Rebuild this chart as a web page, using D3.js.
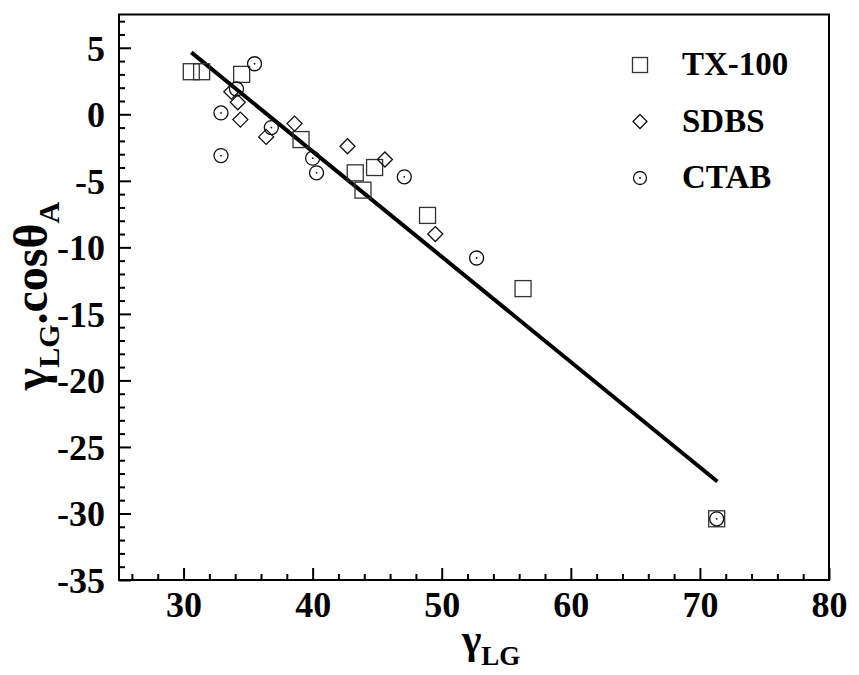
<!DOCTYPE html>
<html>
<head>
<meta charset="utf-8">
<script src="https://cdn.jsdelivr.net/npm/d3@7"></script>
<style>
  body { margin: 0; background: #fff; }
  text { font-family: "Liberation Serif", "Times New Roman", serif; font-weight: bold; }
</style>
</head>
<body>
<svg width="859" height="675"></svg>
<script>
const svg = d3.select('svg');

// TX-100 (squares)
const txX = [30.6, 31.4, 34.5, 39.1, 43.3, 44.8, 43.9, 48.9, 56.3, 71.3];
const txY = [3.2, 3.2, 3.0, -1.9, -4.4, -4.0, -5.7, -7.6, -13.1, -30.4];
// SDBS (diamonds)
const sdX = [33.7, 34.2, 34.4, 36.4, 38.6, 42.7, 45.6, 49.5];
const sdY = [1.7, 0.9, -0.4, -1.7, -0.7, -2.4, -3.4, -9.0];
// CTAB (circles)
const ctX = [35.5, 34.1, 32.9, 32.9, 36.8, 40.0, 40.3, 47.1, 52.7, 71.3];
const ctY = [3.8, 1.9, 0.1, -3.1, -1.0, -3.3, -4.4, -4.7, -10.8, -30.4];
// fitted line end points
const fitX = [30.6, 71.35];
const fitY = [4.65, -27.6];

const xTicks = [30, 40, 50, 60, 70, 80];
const yTicks = [5, 0, -5, -10, -15, -20, -25, -30, -35];
const legendNames = ['TX-100', 'SDBS', 'CTAB'];

const x = d3.scaleLinear().domain([25, 80]).range([119, 829]);
const y = d3.scaleLinear().domain([-35, 7.5]).range([580, 14.5]);

const stroke = '#333';

// frame
svg.append('rect')
    .attr('x', x(25)).attr('y', y(7.5))
    .attr('width', x(80) - x(25)).attr('height', y(-35) - y(7.5))
    .attr('fill', 'none').attr('stroke', '#000').attr('stroke-width', 2);

// axes, ticks pointing inward
const fmt = d => String(d);
const xAxisG = svg.append('g')
    .attr('transform', `translate(0, ${y(-35)})`)
    .call(d3.axisBottom(x).tickValues(xTicks).tickSize(-12).tickPadding(11).tickFormat(fmt));
svg.append('g')
    .attr('transform', `translate(0, ${y(-35)})`)
    .call(d3.axisBottom(x).tickValues(d3.range(26, 80, 2).filter(v => v % 10)).tickSize(-6).tickFormat(''));

const yAxisG = svg.append('g')
    .attr('transform', `translate(${x(25)}, 0)`)
    .call(d3.axisLeft(y).tickValues(yTicks).tickSize(-12).tickPadding(14).tickFormat(fmt));
svg.append('g')
    .attr('transform', `translate(${x(25)}, 0)`)
    .call(d3.axisLeft(y).tickValues(d3.range(-34, 8, 1).filter(v => v % 5)).tickSize(-6).tickFormat(''));

svg.selectAll('.domain').remove();
svg.selectAll('.tick line').attr('stroke', '#000').attr('stroke-width', 2);
svg.selectAll('.tick text').attr('fill', '#000').style('font-size', '36px');
xAxisG.selectAll('.tick text').attr('dy', '0.72em');
yAxisG.selectAll('.tick text').attr('dy', '0.34em');

// axis titles
const xt = svg.append('text')
    .attr('x', 491).attr('y', 653)
    .attr('text-anchor', 'middle')
    .style('font-size', '42px');
xt.append('tspan').text('γ');
xt.append('tspan').attr('dy', 12).style('font-size', '27px').text('LG');

const yt = svg.append('text')
    .attr('transform', `translate(47, 296) rotate(-90)`)
    .attr('text-anchor', 'middle')
    .style('font-size', '48px');
yt.append('tspan').text('γ');
yt.append('tspan').attr('dy', 12).style('font-size', '30px').text('LG');
yt.append('tspan').attr('dy', -12).text('.cosθ');
yt.append('tspan').attr('dy', 12).style('font-size', '30px').text('A');

// fit line
svg.append('line')
    .attr('x1', x(fitX[0])).attr('y1', y(fitY[0]))
    .attr('x2', x(fitX[1])).attr('y2', y(fitY[1]))
    .attr('stroke', '#000').attr('stroke-width', 4);

const toPts = (xs, ys) => xs.map((v, i) => ({x: v, y: ys[i]}));

const drawSquare = (sel, s) => sel.append('rect')
    .attr('x', -s / 2).attr('y', -s / 2).attr('width', s).attr('height', s)
    .attr('fill', 'none').attr('stroke', stroke).attr('stroke-width', 1.3);
const drawDiamond = (sel, r) => sel.append('path')
    .attr('d', `M0,${-r}L${r},0L0,${r}L${-r},0Z`)
    .attr('fill', 'none').attr('stroke', '#111').attr('stroke-width', 1.3);
const drawCircle = (sel, r) => {
    sel.append('circle').attr('r', r)
        .attr('fill', 'none').attr('stroke', '#111').attr('stroke-width', 1.3);
    sel.append('circle').attr('r', 0.9).attr('fill', '#111');
};

const plot = (pts, fn, size) => svg.append('g').selectAll('g').data(pts)
    .enter().append('g')
    .attr('transform', d => `translate(${x(d.x)}, ${y(d.y)})`)
    .each(function () { fn(d3.select(this), size); });

plot(toPts(txX, txY), drawSquare, 16);
plot(toPts(sdX, sdY), drawDiamond, 7.5);
plot(toPts(ctX, ctY), drawCircle, 7);

// legend
const legend = svg.append('g');
const markers = [s => drawSquare(s, 15), s => drawDiamond(s, 7), s => drawCircle(s, 6.5)];
legendNames.forEach((name, i) => {
    const row = legend.append('g').attr('transform', `translate(0, ${75 + i * 56.5})`);
    markers[i](row.append('g').attr('transform', 'translate(640, -10)'));
    row.append('text').attr('x', 682).attr('y', 0)
        .style('font-size', '33px').text(name);
});
</script>
</body>
</html>
